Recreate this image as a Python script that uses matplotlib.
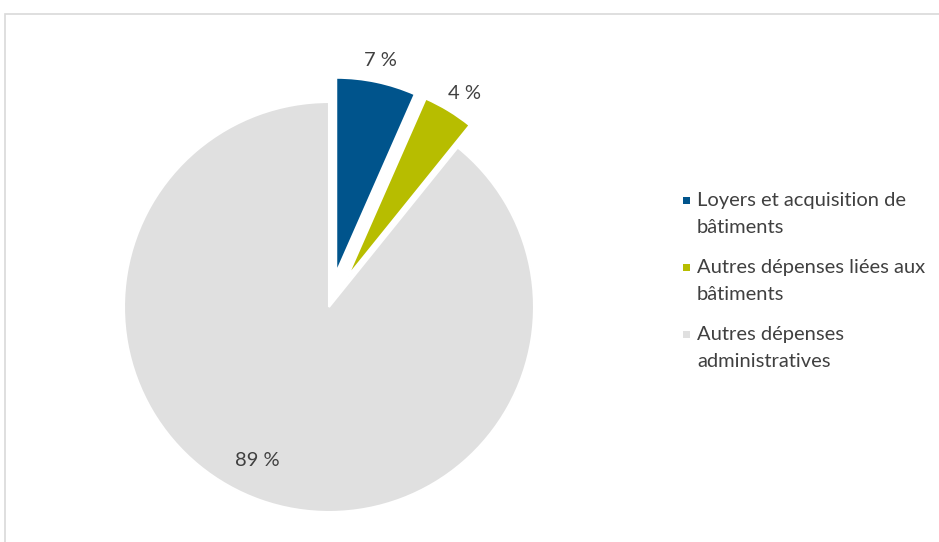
import numpy as np
import matplotlib.pyplot as plt
from matplotlib.patches import Rectangle

categories = ["Loyers et acquisition de\nbâtiments",
              "Autres dépenses liées aux\nbâtiments",
              "Autres dépenses\nadministratives"]
values = [6.6, 4.2, 89.2]
labels = ["7 %", "4 %", "89 %"]
colors = ["#00548C", "#B7BD00", "#E0E0E0"]
explode = [35, 35, 0]

W, H = 939, 542
FONT = ["Lato", "DejaVu Sans"]
TXT = "#404040"

fig = plt.figure(figsize=(W / 100, H / 100), dpi=100)
ax = fig.add_axes([0, 0, 1, 1])
cx, cy = 329, H - 307
wedges, _ = ax.pie(values, colors=colors, startangle=90, counterclock=False,
                   explode=explode, radius=205, center=(cx, cy),
                   wedgeprops=dict(edgecolor="white", linewidth=1.5))
for w in wedges[:2]:
    w.set_radius(195)
ax.set_xlim(0, W)
ax.set_ylim(0, H)
ax.axis("off")

# data labels (distance from pie centre, clockwise angular nudge)
label_dist = [252, 253, 169]
label_nudge = [0.0, 1.0, 5.5]
for w, lab, d, nd in zip(wedges, labels, label_dist, label_nudge):
    mid = np.deg2rad((w.theta1 + w.theta2) / 2 - nd)
    x = cx + d * np.cos(mid)
    y = cy + d * np.sin(mid)
    ax.text(x, y, lab, ha="center", va="center", fontsize=14.5,
            color=TXT, family=FONT)

# chart frame
ax.add_patch(Rectangle((4.5, -20), W + 20, H - 13.5 + 20, fill=False,
                       edgecolor="#D9D9D9", linewidth=1.2, clip_on=False))

# legend
for i, (cat, col) in enumerate(zip(categories, colors)):
    ytop = H - (206 + i * 67)
    ax.add_patch(Rectangle((683, ytop + 2), 7, 7, facecolor=col,
                           edgecolor="none"))
    for j, line in enumerate(cat.split("\n")):
        ax.text(697, ytop - j * 27, line, ha="left", va="baseline",
                fontsize=14.5, color=TXT, family=FONT)

fig.savefig("out.png", dpi=100)
